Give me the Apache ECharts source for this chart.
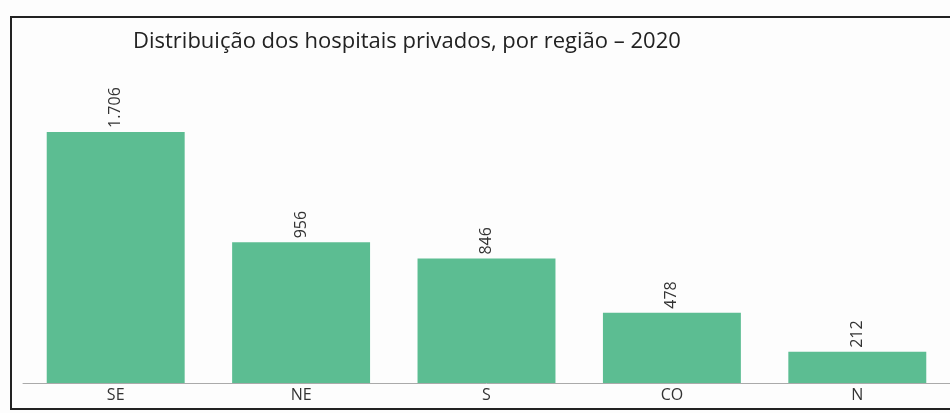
<!DOCTYPE html>
<html><head><meta charset="utf-8">
<script src="https://cdn.jsdelivr.net/npm/echarts@6/dist/echarts.min.js"></script>
<style>html,body{margin:0;padding:0;background:#fdfdfd}#c{width:950px;height:413px}</style>
</head><body><div id="c"></div>
<script>
const categories = ['SE', 'NE', 'S', 'CO', 'N'];
const values = [1706, 956, 846, 478, 212];
const labels = ['1.706', '956', '846', '478', '212'];
const titleText = 'Distribuição dos hospitais privados, por região – 2020';

const chart = echarts.init(document.getElementById('c'));
chart.setOption({
  backgroundColor: '#fdfdfd',
  animation: false,
  title: {
    text: titleText, left: 128, top: 26,
    textStyle: { fontFamily: 'Open Sans', fontWeight: 'normal', fontSize: 22, color: '#222' }
  },
  grid: { left: 23, right: -1, top: 132, bottom: 30 },
  xAxis: {
    type: 'category', data: categories,
    axisLine: { lineStyle: { color: '#aaa', width: 1 } },
    axisTick: { show: false },
    axisLabel: { fontFamily: 'Open Sans', fontSize: 16, color: '#333', margin: 4 }
  },
  yAxis: { type: 'value', min: 0, max: 1706, show: false, splitLine: { show: false } },
  series: [{
    type: 'bar', data: values, barCategoryGap: '25.6%',
    itemStyle: { color: '#5cbd92' },
    label: {
      show: true, position: 'top', rotate: 90, distance: 4, align: 'left', verticalAlign: 'middle',
      fontFamily: 'Open Sans', fontSize: 16, color: '#333',
      formatter: p => labels[p.dataIndex]
    }
  }],
  graphic: [{
    type: 'rect', shape: { x: 11, y: 17, width: 960, height: 392 },
    style: { fill: 'none', stroke: '#222', lineWidth: 2 }
  }]
});
</script></body></html>
